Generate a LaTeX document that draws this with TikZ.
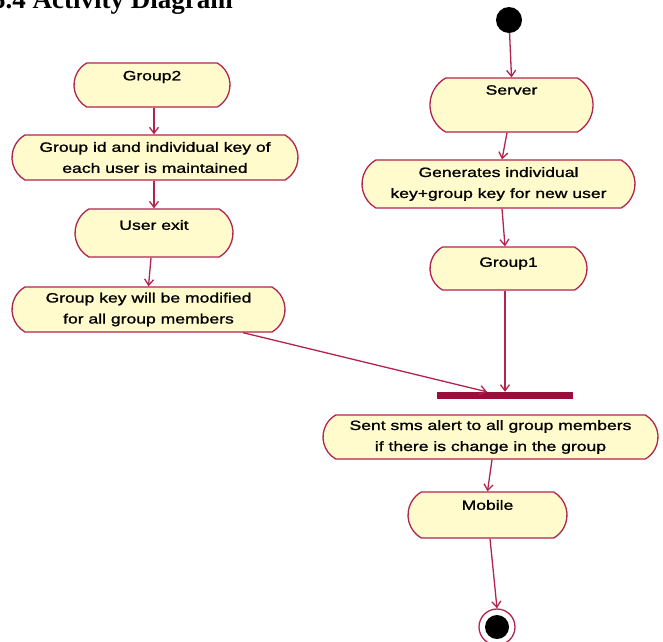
\documentclass[tikz,border=0pt]{standalone}
\usepackage{fontspec}
\newfontfamily\boxfont{Liberation Sans}[FakeStretch=1.3,FakeBold=1.2]
\newfontfamily\titlefont{Liberation Serif}
\usetikzlibrary{shapes.misc,arrows.meta}
\definecolor{bord}{RGB}{178,36,78}
\definecolor{barc}{RGB}{158,12,60}
\definecolor{fillc}{RGB}{255,251,205}
\tikzset{
  act/.style={rounded rectangle, rounded rectangle arc length=120, draw=bord, fill=fillc,
              line width=1.3pt, inner sep=0pt},
  lbl/.style={font=\boxfont\fontsize{13.5}{21}\selectfont, align=center, inner sep=0pt},
  arr/.style={draw=bord, line width=1.3pt, -{Straight Barb[length=6pt,width=9pt]}},
}
\begin{document}
\begin{tikzpicture}[x=1pt,y=-1pt]
\useasboundingbox[fill=white] (0,0) rectangle (663,641);
\node[anchor=base west, inner sep=0pt, font=\titlefont\bfseries\fontsize{27}{30}\selectfont] (title) at (-8,8) {5.4 Activity Diagram};

% left column
\node[act, minimum width=156pt, minimum height=44pt, label={[lbl,yshift=8pt]center:Group2}] (g2) at (152,85) {};
\node[act, minimum width=286pt, minimum height=45pt] (gid) at (155,157.5) {};
\node[lbl] (gidT) at (gid) {Group id and individual key of\\each user is maintained};
\node[act, minimum width=158pt, minimum height=48pt, label={[lbl,yshift=8pt]center:User exit}] (uexit) at (154,233) {};
\node[act, minimum width=273pt, minimum height=45pt] (gkey) at (148.5,309.5) {};
\node[lbl] (gkeyT) at (gkey) {Group key will be modified\\for all group members};

% right column
\node[circle, fill=black, minimum size=26pt, inner sep=0pt] (start) at (509,20) {};
\node[act, minimum width=163pt, minimum height=54pt, label={[lbl,yshift=15pt]center:Server}] (server) at (511.5,105) {};
\node[act, minimum width=273pt, minimum height=48pt] (gen) at (498.5,184) {};
\node[lbl] (genT) at (gen) {Generates individual\\key+group key for new user};
\node[act, minimum width=157pt, minimum height=43pt, label={[lbl,yshift=5pt]center:Group1}] (g1) at (508.5,268.5) {};
\node[fill=barc, minimum width=136pt, minimum height=7pt, inner sep=0pt] (bar) at (505,395.5) {};
\node[act, minimum width=335pt, minimum height=44pt] (sms) at (490.5,437) {};
\node[lbl] (smsT) at (sms) {Sent sms alert to all group members\\if there is change in the group};
\node[act, minimum width=159pt, minimum height=46pt, label={[lbl,yshift=10pt]center:Mobile}] (mobile) at (487.5,515) {};
\node[circle, draw=bord, line width=1.3pt, fill=white, minimum size=36pt, inner sep=0pt] (end) at (497,627) {};
\node[circle, fill=black, minimum size=24pt, inner sep=0pt] (endin) at (end) {};

% connectors
\draw[arr] ([xshift=2pt]g2.south) -- ([xshift=-1pt]gid.north);
\draw[arr] ([xshift=-1pt]gid.south) -- (uexit.north);
\draw[arr] ([xshift=-3pt]uexit.south) -- (gkey.north);
\draw[arr] ([xshift=94.5pt]gkey.south) -- ([xshift=-18pt]bar.north);
\draw[arr] (start) -- (server.north);
\draw[arr] ([xshift=-4.5pt]server.south) -- ([xshift=3.5pt]gen.north);
\draw[arr] ([xshift=3.5pt]gen.south) -- ([xshift=-3.5pt]g1.north);
\draw[arr] ([xshift=-3.5pt]g1.south) -- (bar.north);
\draw[arr] ([xshift=1.5pt]sms.south) -- (mobile.north);
\draw[arr] ([xshift=2.5pt]mobile.south) -- (end.north);
\end{tikzpicture}
\end{document}
